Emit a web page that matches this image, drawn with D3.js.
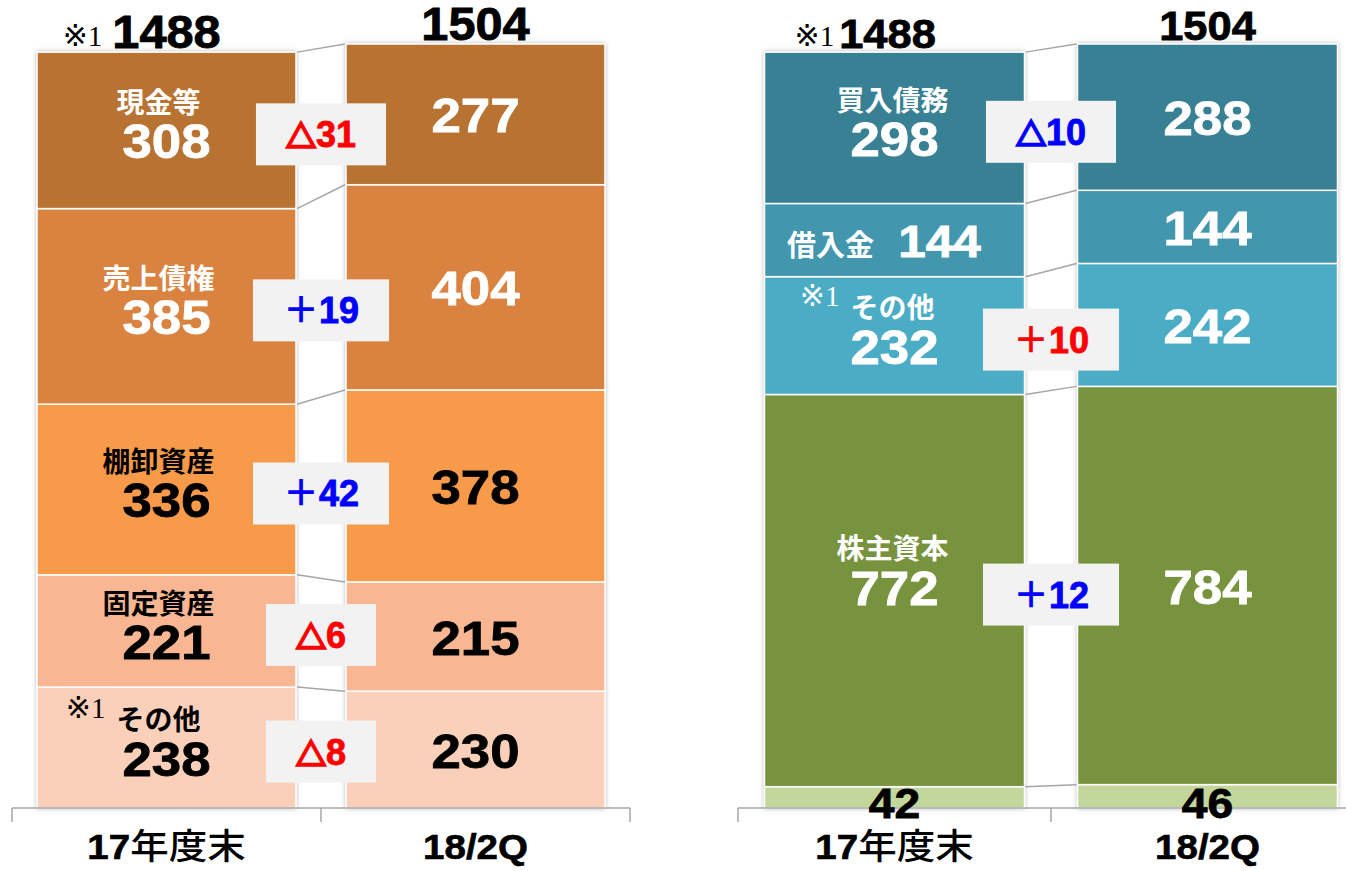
<!DOCTYPE html>
<html>
<head>
<meta charset="utf-8">
<script src="https://cdn.jsdelivr.net/npm/d3@7"></script>
<style>
  body { margin: 0; background: #fff; }
</style>
</head>
<body>
<script>
// data (stacks listed bottom -> top)
var categories = ["17年度末", "18/2Q"];

var assetNames = ["その他", "固定資産", "棚卸資産", "売上債権", "現金等"];
var assetPrev = [238, 221, 336, 385, 308];
var assetCurr = [230, 215, 378, 404, 277];

var liabNames = ["", "株主資本", "その他", "借入金", "買入債務"];
var liabPrev = [42, 772, 232, 144, 298];
var liabCurr = [46, 784, 242, 144, 288];
// liabilities: an increase is bad (red), equity increase is good (blue)
var liabIsDebt = [false, false, true, true, true];
var liabShowDelta = [false, true, true, false, true];

// styles
var assetColors = ["#fbd0ba", "#f8b692", "#f79a4a", "#da8340", "#b87333"];
var assetText = ["#000", "#000", "#000", "#fff", "#fff"];
var liabColors = ["#c3d69b", "#77933c", "#4bacc6", "#4397ae", "#378094"];
var liabText = ["#000", "#fff", "#fff", "#fff", "#fff"];

var SANS = "'Liberation Sans', Arial, sans-serif";
var CJK = "'Noto Sans CJK JP', sans-serif";
var SERIF = "'Liberation Serif', 'Noto Sans CJK JP', serif";

var svgWidth = 1346, svgHeight = 871;
var baseY = 808;

var svg = d3.select("body").append("svg")
  .attr("width", svgWidth)
  .attr("height", svgHeight);

var defs = svg.append("defs");
defs.append("filter").attr("id", "shadow")
  .attr("x", "-10%").attr("y", "-10%").attr("width", "120%").attr("height", "120%")
  .append("feDropShadow")
  .attr("dx", 0).attr("dy", 0).attr("stdDeviation", 2)
  .attr("flood-color", "#888").attr("flood-opacity", 0.6);

var yScale = d3.scaleLinear()
  .domain([0, d3.max([d3.sum(assetCurr), d3.sum(liabCurr)])])
  .range([baseY, 44]);

// heavy, slightly wide numbers like the original deck
function num(g, x, y, size, color, txt, sx) {
  return g.append("text")
    .attr("transform", "translate(" + x + "," + y + ") scale(" + (sx || 1.1) + ",1)")
    .attr("text-anchor", "middle")
    .style("font-family", SANS)
    .style("font-weight", "bold")
    .style("font-size", size + "px")
    .attr("fill", color)
    .attr("stroke", color)
    .attr("stroke-width", 0.8)
    .text(txt);
}

function note(g, x, y, color) {
  var t = g.append("text")
    .attr("x", x).attr("y", y)
    .attr("text-anchor", "end")
    .style("font-family", SERIF)
    .style("font-size", "29px")
    .attr("fill", color);
  t.append("tspan").style("font-family", "'DejaVu Sans', sans-serif").style("font-size", "30px").text("※");
  t.append("tspan").text("1");
  return t;
}

function drawPanel(opt) {
  var g = svg.append("g");

  var x = d3.scaleBand().domain(categories).range(opt.range);
  var barW = opt.barW;
  var barX = function(c) { return x(c) + (x.bandwidth() - barW) / 2; };

  // table for d3.stack
  var keys = opt.names.map(function(n, i) { return "k" + i; });
  var table = [opt.prev, opt.curr].map(function(vals, j) {
    var row = { cat: categories[j] };
    vals.forEach(function(v, i) { row["k" + i] = v; });
    return row;
  });
  var series = d3.stack().keys(keys)(table);

  // bars
  categories.forEach(function(cat, j) {
    var bar = g.append("g").attr("filter", "url(#shadow)");
    bar.selectAll("rect")
      .data(series)
      .enter()
      .append("rect")
      .attr("x", barX(cat))
      .attr("width", barW)
      .attr("y", function(s) { return yScale(s[j][1]); })
      .attr("height", function(s) { return yScale(s[j][0]) - yScale(s[j][1]); })
      .attr("fill", function(s, i) { return opt.colors[i]; })
      .attr("stroke", "#fff")
      .attr("stroke-width", 1.5);
  });

  // connector lines
  var x1 = barX(categories[0]) + barW, x2 = barX(categories[1]);
  g.selectAll("line.conn")
    .data(series)
    .enter()
    .append("line")
    .attr("class", "conn")
    .attr("x1", x1 + 1).attr("x2", x2 - 1)
    .attr("y1", function(s) { return yScale(s[0][1]); })
    .attr("y2", function(s) { return yScale(s[1][1]); })
    .attr("stroke", "#a6a6a6")
    .attr("stroke-width", 1.5);

  // axis
  var r = x.range();
  g.append("line")
    .attr("x1", r[0]).attr("x2", r[1])
    .attr("y1", baseY).attr("y2", baseY)
    .attr("stroke", "#a6a6a6").attr("stroke-width", 1.5);
  var ticks = categories.map(function(c) { return x(c); }).concat([r[1]]);
  g.selectAll("line.tick")
    .data(ticks)
    .enter()
    .append("line")
    .attr("x1", function(d) { return d; }).attr("x2", function(d) { return d; })
    .attr("y1", baseY).attr("y2", baseY + 14)
    .attr("stroke", "#a6a6a6").attr("stroke-width", 1.5);

  // category labels
  categories.forEach(function(cat) {
    var m = cat.match(/^([0-9\/A-Z]+)(.*)$/);
    var t = g.append("text")
      .attr("transform", "translate(" + (x(cat) + x.bandwidth() / 2) + ",859) scale(1.1,1)")
      .attr("text-anchor", "middle")
      .style("font-family", SANS)
      .style("font-size", "35px")
      .attr("fill", "#000");
    t.append("tspan").style("font-weight", "bold")
      .attr("stroke", "#000").attr("stroke-width", 0.6).text(m[1]);
    if (m[2]) t.append("tspan")
      .style("font-family", CJK)
      .style("font-weight", 500)
      .style("font-size", "35px")
      .text(m[2]);
  });

  // totals
  categories.forEach(function(cat, j) {
    var total = d3.sum(j === 0 ? opt.prev : opt.curr);
    var cx = barX(cat) + barW / 2;
    var ty = yScale(total) - 5;
    var t = num(g, cx - (j === 0 ? opt.totalShift : 0), ty + 1, opt.totalSize, "#000", total, 1.06);
    if (j === 0) {
      var tw = t.node().getComputedTextLength() * 1.06;
      note(g, cx - opt.totalShift - tw / 2 - opt.noteGap, ty - 1, "#000");
    }
  });

  // segment labels
  var c0 = barX(categories[0]) + barW / 2;
  var c1 = barX(categories[1]) + barW / 2;
  series.forEach(function(s, i) {
    var name = opt.names[i];
    var top0 = yScale(s[0][1]), bot0 = yScale(s[0][0]);
    var top1 = yScale(s[1][1]), bot1 = yScale(s[1][0]);
    var mid0 = (top0 + bot0) / 2, mid1 = (top1 + bot1) / 2;
    var col = opt.text[i];
    // tall segments carry their label a little above centre
    var lift = (bot0 - top0) > 300 ? 14 : 0;

    if (name === "") {
      // thin bottom segment: value sits over the axis
      num(g, c0, baseY + 10, 42, col, opt.prev[i]);
      num(g, c1, baseY + 10, 42, col, opt.curr[i]);
      return;
    }

    if (opt.inline === name) {
      g.append("text")
        .attr("x", c0 - 64).attr("y", mid0 + 16)
        .attr("text-anchor", "middle")
        .style("font-family", CJK)
        .style("font-weight", "bold").style("font-size", "29px")
        .attr("fill", col).text(name);
      num(g, c0 + 45, mid0 + 17, 45, col, opt.prev[i]);
    } else {
      var nm = g.append("text")
        .attr("x", c0 + opt.nameShift).attr("y", mid0 - 27 - lift)
        .attr("dy", "0.35em")
        .attr("text-anchor", "middle")
        .style("font-family", CJK)
        .style("font-weight", "bold").style("font-size", "28px")
        .attr("fill", col).text(name);
      num(g, c0, mid0 + 28 - lift, 48, col, opt.prev[i]);
      if (name === "その他") {
        var nw = nm.node().getComputedTextLength();
        note(g, c0 + opt.nameShift - nw / 2 - 11, mid0 - 30, col);
      }
    }
    num(g, c1, mid1 + 18, 48, col, opt.curr[i]);

    // change box
    if (!opt.showDelta[i]) return;
    var diff = opt.curr[i] - opt.prev[i];
    var good = opt.isDebt[i] ? diff < 0 : diff > 0;
    var dcol = good ? "#0000ff" : "#ff0000";
    var gx = (x1 + x2) / 2;
    var by = mid0 + 4;
    var box = g.append("rect")
      .attr("y", by - 31).attr("height", 62)
      .attr("fill", "#f2f2f2");
    var dt = g.append("text")
      .attr("x", gx).attr("y", by + 13)
      .attr("text-anchor", "middle")
      .style("font-family", SANS)
      .style("font-weight", "bold").style("font-size", "36px")
      .attr("fill", dcol);
    if (diff < 0) {
      dt.append("tspan")
        .style("font-family", CJK)
        .style("font-weight", 900)
        .style("font-size", "30px")
        .attr("stroke", dcol).attr("stroke-width", 2.4)
        .text("△");
    } else {
      dt.append("tspan")
        .style("font-family", CJK)
        .style("font-weight", 700)
        .style("font-size", "36px")
        .text("＋");
    }
    dt.append("tspan")
      .attr("stroke", dcol).attr("stroke-width", 0.8)
      .text(Math.abs(diff));
    var tw = dt.node().getComputedTextLength();
    box.attr("x", gx - tw / 2 - 30).attr("width", tw + 60);
  });
}

drawPanel({
  range: [12, 630], barW: 259, totalSize: 46, totalShift: 0, noteGap: 10,
  nameShift: -8,
  names: assetNames, prev: assetPrev, curr: assetCurr,
  colors: assetColors, text: assetText,
  isDebt: [false, false, false, false, false],
  showDelta: [true, true, true, true, true]
});

drawPanel({
  range: [738, 1364], barW: 260, totalSize: 41, totalShift: 7, noteGap: 5,
  nameShift: -2,
  names: liabNames, prev: liabPrev, curr: liabCurr,
  colors: liabColors, text: liabText,
  isDebt: liabIsDebt, showDelta: liabShowDelta,
  inline: "借入金"
});
</script>
</body>
</html>
